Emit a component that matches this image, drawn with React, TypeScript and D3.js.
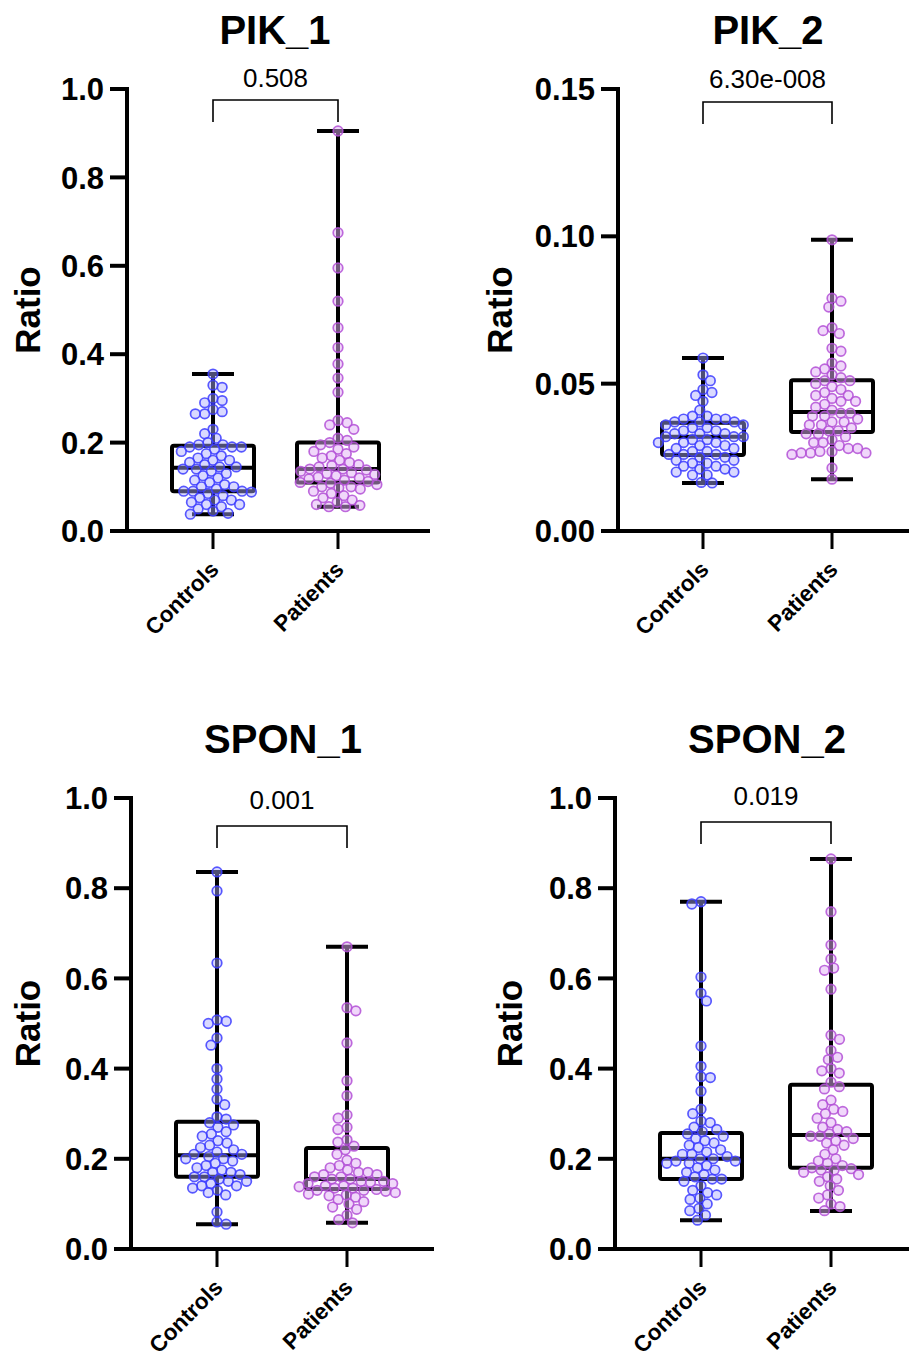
import React from "react";
import * as d3 from "d3";

const categories = ["Controls", "Patients"];
const titles = ["PIK_1", "PIK_2", "SPON_1", "SPON_2"];
const pValues = ["0.508", "6.30e-008", "0.001", "0.019"];

const ticksUnit = [0, 0.2, 0.4, 0.6, 0.8, 1.0];
const ticksSmall = [0, 0.05, 0.1, 0.15];

// box stats: [min, q1, median, q3, max]
const pik1Box = [[0.038, 0.09, 0.143, 0.193, 0.355], [0.055, 0.11, 0.14, 0.2, 0.905]];
const pik2Box = [[0.0163, 0.0258, 0.032, 0.0367, 0.0587], [0.0176, 0.0336, 0.0404, 0.0512, 0.0988]];
const spon1Box = [[0.055, 0.16, 0.208, 0.282, 0.836], [0.058, 0.133, 0.155, 0.224, 0.67]];
const spon2Box = [[0.064, 0.155, 0.2, 0.257, 0.77], [0.084, 0.18, 0.253, 0.364, 0.865]];

const pik1Controls = [0.355, 0.33, 0.325, 0.30, 0.295, 0.29, 0.275, 0.27, 0.265, 0.265, 0.23, 0.22, 0.21, 0.20, 0.195, 0.195, 0.19, 0.19, 0.19, 0.185, 0.18, 0.175, 0.17, 0.165, 0.16, 0.16, 0.155, 0.15, 0.145, 0.145, 0.14, 0.14, 0.135, 0.13, 0.125, 0.12, 0.115, 0.11, 0.105, 0.10, 0.10, 0.095, 0.09, 0.09, 0.09, 0.088, 0.085, 0.08, 0.075, 0.07, 0.07, 0.065, 0.06, 0.06, 0.055, 0.05, 0.045, 0.04, 0.038];
const pik1Patients = [0.905, 0.675, 0.595, 0.52, 0.46, 0.415, 0.378, 0.346, 0.314, 0.25, 0.245, 0.24, 0.23, 0.21, 0.205, 0.2, 0.195, 0.19, 0.185, 0.18, 0.175, 0.17, 0.165, 0.16, 0.155, 0.15, 0.148, 0.145, 0.14, 0.14, 0.138, 0.135, 0.132, 0.13, 0.128, 0.125, 0.122, 0.12, 0.118, 0.115, 0.112, 0.11, 0.108, 0.105, 0.1, 0.1, 0.098, 0.095, 0.09, 0.085, 0.08, 0.075, 0.07, 0.065, 0.06, 0.058, 0.055, 0.055];
const pik2Controls = [0.0587, 0.053, 0.051, 0.048, 0.047, 0.046, 0.044, 0.041, 0.039, 0.039, 0.038, 0.038, 0.038, 0.037, 0.037, 0.037, 0.036, 0.036, 0.035, 0.035, 0.034, 0.034, 0.033, 0.033, 0.033, 0.032, 0.032, 0.032, 0.031, 0.031, 0.030, 0.030, 0.030, 0.029, 0.029, 0.028, 0.028, 0.027, 0.027, 0.026, 0.026, 0.026, 0.025, 0.025, 0.024, 0.024, 0.023, 0.023, 0.022, 0.022, 0.021, 0.021, 0.020, 0.020, 0.019, 0.019, 0.0165, 0.0163];
const pik2Patients = [0.0988, 0.079, 0.078, 0.076, 0.069, 0.068, 0.067, 0.062, 0.061, 0.057, 0.056, 0.055, 0.054, 0.053, 0.052, 0.051, 0.051, 0.050, 0.049, 0.048, 0.047, 0.046, 0.046, 0.045, 0.044, 0.044, 0.043, 0.042, 0.041, 0.040, 0.040, 0.039, 0.039, 0.038, 0.037, 0.037, 0.036, 0.036, 0.035, 0.034, 0.034, 0.033, 0.033, 0.032, 0.031, 0.030, 0.030, 0.029, 0.028, 0.028, 0.027, 0.027, 0.0265, 0.0265, 0.0265, 0.026, 0.0214, 0.0176];
const spon1Controls = [0.836, 0.794, 0.634, 0.508, 0.505, 0.50, 0.468, 0.452, 0.40, 0.377, 0.355, 0.332, 0.32, 0.293, 0.288, 0.28, 0.275, 0.27, 0.26, 0.255, 0.25, 0.24, 0.235, 0.23, 0.225, 0.22, 0.215, 0.21, 0.21, 0.205, 0.2, 0.2, 0.195, 0.19, 0.185, 0.18, 0.175, 0.17, 0.17, 0.165, 0.16, 0.16, 0.155, 0.15, 0.15, 0.145, 0.14, 0.14, 0.135, 0.13, 0.125, 0.12, 0.082, 0.06, 0.055];
const spon1Patients = [0.67, 0.535, 0.528, 0.457, 0.373, 0.34, 0.297, 0.29, 0.27, 0.265, 0.242, 0.237, 0.228, 0.22, 0.21, 0.197, 0.19, 0.185, 0.18, 0.175, 0.17, 0.17, 0.165, 0.165, 0.16, 0.16, 0.155, 0.155, 0.15, 0.15, 0.148, 0.145, 0.145, 0.14, 0.14, 0.138, 0.135, 0.135, 0.132, 0.13, 0.13, 0.128, 0.125, 0.122, 0.12, 0.118, 0.115, 0.11, 0.105, 0.1, 0.093, 0.088, 0.075, 0.065, 0.058];
const spon2Controls = [0.77, 0.765, 0.603, 0.567, 0.55, 0.45, 0.405, 0.382, 0.38, 0.35, 0.31, 0.30, 0.284, 0.28, 0.27, 0.265, 0.26, 0.255, 0.25, 0.245, 0.24, 0.235, 0.23, 0.225, 0.22, 0.215, 0.21, 0.21, 0.205, 0.2, 0.2, 0.195, 0.195, 0.19, 0.19, 0.185, 0.18, 0.175, 0.17, 0.165, 0.16, 0.155, 0.155, 0.15, 0.14, 0.13, 0.125, 0.12, 0.113, 0.11, 0.1, 0.09, 0.085, 0.075, 0.064];
const spon2Patients = [0.865, 0.748, 0.674, 0.643, 0.623, 0.618, 0.576, 0.474, 0.465, 0.44, 0.425, 0.42, 0.40, 0.395, 0.39, 0.37, 0.36, 0.355, 0.33, 0.32, 0.31, 0.305, 0.3, 0.29, 0.28, 0.27, 0.265, 0.26, 0.255, 0.25, 0.25, 0.245, 0.24, 0.235, 0.23, 0.22, 0.21, 0.2, 0.195, 0.19, 0.185, 0.18, 0.178, 0.175, 0.175, 0.17, 0.165, 0.16, 0.155, 0.15, 0.14, 0.13, 0.12, 0.113, 0.1, 0.094, 0.085];

const FONT = "Arial, 'Liberation Sans', Helvetica, sans-serif";

const panels = [
  { title: titles[0], p: pValues[0], box: pik1Box, pts: [pik1Controls, pik1Patients], ticks: ticksUnit, fmt: ".1f", domain: [0, 1.0],
    axisX: 127, top: 89, bottom: 531, xs: [213, 338], titleX: 275, brY: 100, pY: 89, ratioX: 40 },
  { title: titles[1], p: pValues[1], box: pik2Box, pts: [pik2Controls, pik2Patients], ticks: ticksSmall, fmt: ".2f", domain: [0, 0.15],
    axisX: 618, top: 89, bottom: 531, xs: [703, 832], titleX: 768, brY: 102, pY: 90, ratioX: 512 },
  { title: titles[2], p: pValues[2], box: spon1Box, pts: [spon1Controls, spon1Patients], ticks: ticksUnit, fmt: ".1f", domain: [0, 1.0],
    axisX: 131, top: 798, bottom: 1249, xs: [217, 347], titleX: 283, brY: 826, pY: 811, ratioX: 40 },
  { title: titles[3], p: pValues[3], box: spon2Box, pts: [spon2Controls, spon2Patients], ticks: ticksUnit, fmt: ".1f", domain: [0, 1.0],
    axisX: 615, top: 798, bottom: 1249, xs: [701, 831], titleX: 767, brY: 822, pY: 807, ratioX: 522 },
];

const colors = [
  { stroke: "#3c3cff", fill: "rgba(170,170,255,0.45)" },
  { stroke: "#b350d6", fill: "rgba(225,175,245,0.5)" },
];

function swarm(values: number[], y: (v: number) => number, d: number) {
  const items = values.map((v) => ({ v, y: y(v), x: 0 })).sort((a, b) => a.y - b.y);
  const placed: { x: number; y: number }[] = [];
  items.forEach((it, idx) => {
    const intervals: [number, number][] = [];
    for (const p of placed) {
      const dy = Math.abs(p.y - it.y);
      if (dy < d) {
        const w = Math.sqrt(d * d - dy * dy);
        intervals.push([p.x - w, p.x + w]);
      }
    }
    const cands = [0];
    intervals.forEach(([a, b]) => { cands.push(a, b); });
    const ok = (x: number) => intervals.every(([a, b]) => x <= a + 1e-6 || x >= b - 1e-6);
    const valid = cands.filter(ok).sort((a, b) => Math.abs(a) - Math.abs(b) || (idx % 2 ? a - b : b - a));
    it.x = valid.length ? valid[0] : 0;
    placed.push({ x: it.x, y: it.y });
  });
  return items;
}

function Panel({ cfg }: { cfg: any }) {
  const y = d3.scaleLinear().domain(cfg.domain).range([cfg.bottom, cfg.top]);
  const fmt = d3.format(cfg.fmt);
  const lw = 4;
  const boxHalf = 41;
  const capHalf = 21;
  const yMid = (cfg.top + cfg.bottom) / 2;
  return (
    <g>
      <text x={cfg.titleX} y={cfg.top - 45} textAnchor="middle" fontFamily={FONT} fontWeight="bold" fontSize={40}>{cfg.title}</text>
      {/* y axis */}
      <line x1={cfg.axisX} x2={cfg.axisX} y1={cfg.top - 2} y2={cfg.bottom + 2} stroke="#000" strokeWidth={lw} />
      {cfg.ticks.map((t: number) => (
        <g key={t}>
          <line x1={cfg.axisX - 17} x2={cfg.axisX} y1={y(t)} y2={y(t)} stroke="#000" strokeWidth={lw} />
          <text x={cfg.axisX - 23} y={y(t)} dy="0.36em" textAnchor="end" fontFamily={FONT} fontWeight="bold" fontSize={31}>{fmt(t)}</text>
        </g>
      ))}
      <text transform={`translate(${cfg.ratioX},${yMid}) rotate(-90)`} textAnchor="middle" fontFamily={FONT} fontWeight="bold" fontSize={35}>Ratio</text>
      {/* x axis */}
      <line x1={cfg.axisX - 2} x2={cfg.axisX + 303} y1={cfg.bottom} y2={cfg.bottom} stroke="#000" strokeWidth={lw} />
      {categories.map((c, i) => (
        <g key={c}>
          <line x1={cfg.xs[i]} x2={cfg.xs[i]} y1={cfg.bottom} y2={cfg.bottom + 18} stroke="#000" strokeWidth={3} />
          <text transform={`translate(${cfg.xs[i] + 7},${cfg.bottom + 40}) rotate(-45)`} textAnchor="end" fontFamily={FONT} fontWeight="bold" fontSize={22.5}>{c}</text>
        </g>
      ))}
      {/* boxes */}
      {cfg.box.map((b: number[], i: number) => {
        const cx = cfg.xs[i];
        return (
          <g key={i} stroke="#000" strokeWidth={lw} fill="none" strokeLinejoin="round">
            <line x1={cx} x2={cx} y1={y(b[4])} y2={y(b[3])} />
            <line x1={cx} x2={cx} y1={y(b[1])} y2={y(b[0])} />
            <line x1={cx - capHalf} x2={cx + capHalf} y1={y(b[4])} y2={y(b[4])} />
            <line x1={cx - capHalf} x2={cx + capHalf} y1={y(b[0])} y2={y(b[0])} />
            <rect x={cx - boxHalf} y={y(b[3])} width={boxHalf * 2} height={y(b[1]) - y(b[3])} rx={2} />
            <line x1={cx - boxHalf} x2={cx + boxHalf} y1={y(b[2])} y2={y(b[2])} />
          </g>
        );
      })}
      {/* points */}
      {cfg.pts.map((vals: number[], i: number) => (
        <g key={"p" + i}>
          {swarm(vals, y, 9.4).map((pt, j) => (
            <circle key={j} cx={cfg.xs[i] + pt.x} cy={pt.y} r={4.8} fill={colors[i].fill} stroke={colors[i].stroke} strokeWidth={1.7} strokeOpacity={0.85} />
          ))}
        </g>
      ))}
      {/* bracket */}
      <path d={`M${cfg.xs[0]},${cfg.brY + 22} V${cfg.brY} H${cfg.xs[1]} V${cfg.brY + 22}`} fill="none" stroke="#000" strokeWidth={1.6} />
      <text x={(cfg.xs[0] + cfg.xs[1]) / 2} y={cfg.pY} dy={-2} textAnchor="middle" fontFamily={FONT} fontSize={26}>{cfg.p}</text>
    </g>
  );
}

export default function App() {
  return (
    <svg width={909} height={1361} style={{ position: "absolute", left: 0, top: 0, background: "#fff" }}>
      <rect width={909} height={1361} fill="#fff" />
      {panels.map((p, i) => <Panel key={i} cfg={p} />)}
    </svg>
  );
}
